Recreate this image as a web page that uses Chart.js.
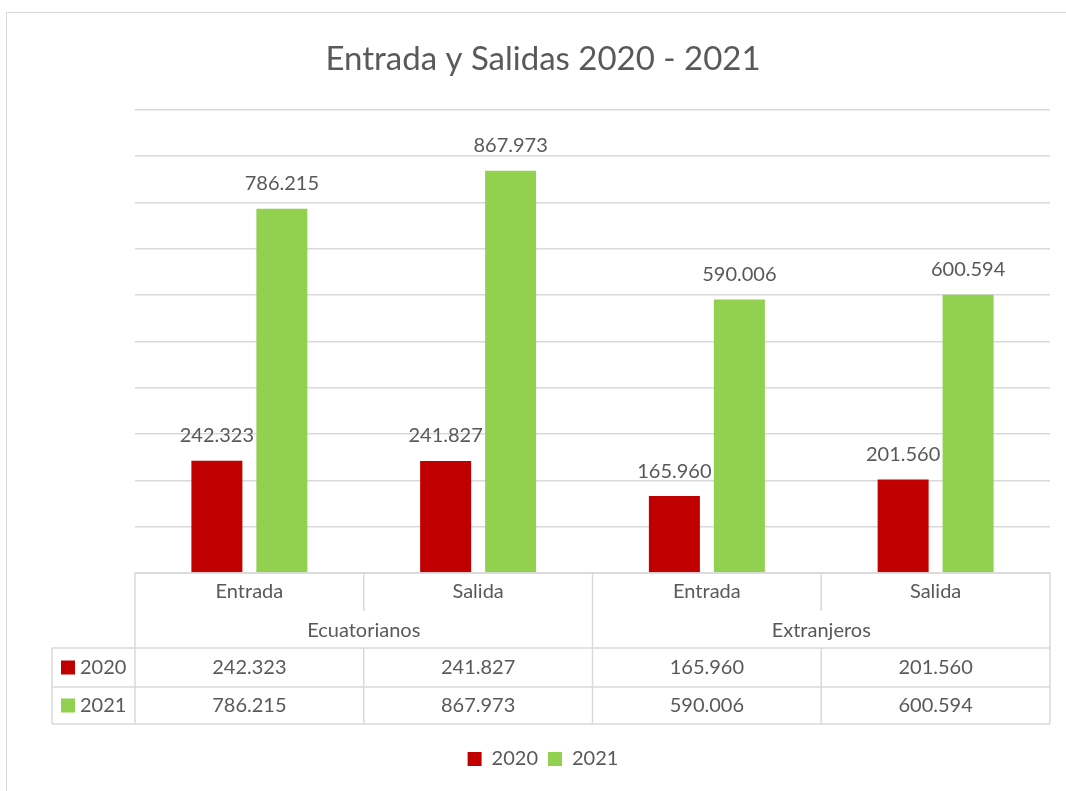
<!DOCTYPE html>
<html>
<head>
<meta charset="utf-8">
<script src="https://cdn.jsdelivr.net/npm/chart.js@4/dist/chart.umd.min.js"></script>
<style>
  body { margin: 0; overflow: hidden; background: #fff; }
  #frame { position: absolute; left: 6px; top: 12px; width: 1100px; height: 820px; border: 1.5px solid #d9d9d9; }
  canvas { position: absolute; left: 0; top: 0; }
</style>
</head>
<body>
<div id="frame"></div>
<canvas id="bar_canvas" width="1066" height="791"></canvas>
<script>
const groups = ["Ecuatorianos", "Extranjeros"]
const categories = ["Entrada", "Salida", "Entrada", "Salida"]
const series_names = ["2020", "2021"]
const values_2020 = [242323, 241827, 165960, 201560]
const values_2021 = [786215, 867973, 590006, 600594]
const series_colors = ["#c00000", "#92d050"]
const y_max = 1000000
const y_step = 100000

const text_color = "#595959"
const line_color = "#d9d9d9"
const font_family = "Lato, 'Open Sans', sans-serif"

function fmt(v) {
  return String(v).replace(/\B(?=(\d{3})+(?!\d))/g, ".")
}

// numbers above each bar
const value_labels = {
  id: "value_labels",
  afterDatasetsDraw(chart) {
    const ctx = chart.ctx
    ctx.save()
    ctx.fillStyle = text_color
    ctx.font = "20px " + font_family
    ctx.textAlign = "center"
    ctx.textBaseline = "middle"
    chart.data.datasets.forEach((ds, di) => {
      chart.getDatasetMeta(di).data.forEach((bar, i) => {
        ctx.fillText(fmt(ds.data[i]), bar.x, bar.y - 25)
      })
    })
    ctx.restore()
  }
}

// data table under the plot
const data_table = {
  id: "data_table",
  afterDraw(chart) {
    const ctx = chart.ctx
    const area = chart.chartArea
    const xs = chart.scales.x
    const n = categories.length
    const half = (xs.getPixelForValue(1) - xs.getPixelForValue(0)) / 2
    const edges = []
    for (let i = 0; i < n; i++) edges.push(xs.getPixelForValue(i) - half)
    edges.push(xs.getPixelForValue(n - 1) + half)

    const t = area.bottom
    const r1 = t + 38, r2 = t + 75, r3 = t + 114, r4 = t + 151
    const lab_left = 52

    ctx.save()
    ctx.strokeStyle = line_color
    ctx.lineWidth = 1.5
    const line = (x1, y1, x2, y2) => {
      ctx.beginPath(); ctx.moveTo(x1, y1); ctx.lineTo(x2, y2); ctx.stroke()
    }
    line(edges[0], t, edges[n], t)
    line(lab_left, r2, edges[n], r2)
    line(lab_left, r3, edges[n], r3)
    line(lab_left, r4, edges[n], r4)
    line(lab_left, r2, lab_left, r4)
    line(edges[0], t, edges[0], r4)
    line(edges[n], t, edges[n], r4)
    const per_group = n / groups.length
    for (let i = 1; i < n; i++) {
      if (i % per_group == 0) {
        line(edges[i], t, edges[i], r4)
      } else {
        line(edges[i], t, edges[i], r1)
        line(edges[i], r2, edges[i], r4)
      }
    }

    ctx.fillStyle = text_color
    ctx.font = "20px " + font_family
    ctx.textAlign = "center"
    ctx.textBaseline = "middle"
    categories.forEach((c, i) => ctx.fillText(c, xs.getPixelForValue(i), (t + r1) / 2))
    groups.forEach((g, gi) => {
      const cx = (edges[gi * per_group] + edges[(gi + 1) * per_group]) / 2
      ctx.fillText(g, cx, (r1 + r2) / 2 + 1)
    })
    const rows = [[values_2020, (r2 + r3) / 2], [values_2021, (r3 + r4) / 2]]
    rows.forEach(([vals, y], si) => {
      vals.forEach((v, i) => ctx.fillText(fmt(v), xs.getPixelForValue(i), y))
      ctx.fillStyle = series_colors[si]
      ctx.fillRect(61, y - 7, 14, 14)
      ctx.fillStyle = text_color
      ctx.textAlign = "left"
      ctx.fillText(series_names[si], 80, y)
      ctx.textAlign = "center"
    })
    ctx.restore()
  }
}

const config = {
  type: "bar",
  data: {
    labels: categories,
    datasets: [
      { label: series_names[0], data: values_2020, backgroundColor: series_colors[0] },
      { label: series_names[1], data: values_2021, backgroundColor: series_colors[1] },
    ],
  },
  options: {
    responsive: false,
    animation: false,
    devicePixelRatio: 1,
    categoryPercentage: 0.568,
    barPercentage: 0.785,
    layout: { padding: { left: 36, right: 16, top: 0, bottom: 12 } },
    plugins: {
      title: {
        display: true,
        text: "Entrada y Salidas 2020 - 2021",
        color: text_color,
        font: { family: font_family, size: 33, weight: "normal" },
        padding: { top: 40, bottom: 30 },
      },
      legend: {
        position: "bottom",
        labels: {
          boxWidth: 14, boxHeight: 14, padding: 10,
          color: text_color,
          font: { family: font_family, size: 20 },
        },
      },
      tooltip: { enabled: false },
    },
    scales: {
      x: {
        grid: { display: false },
        border: { display: false },
        ticks: { display: false },
        afterFit(s) { s.height = 166 },
      },
      y: {
        min: 0, max: y_max,
        ticks: { display: false, stepSize: y_step },
        grid: { color: line_color, lineWidth: 1.5, drawTicks: false },
        border: { display: false },
        afterFit(s) { s.width = 99 },
      },
    },
  },
  plugins: [value_labels, data_table],
}

new Chart(document.getElementById("bar_canvas").getContext("2d"), config)
</script>
</body>
</html>
